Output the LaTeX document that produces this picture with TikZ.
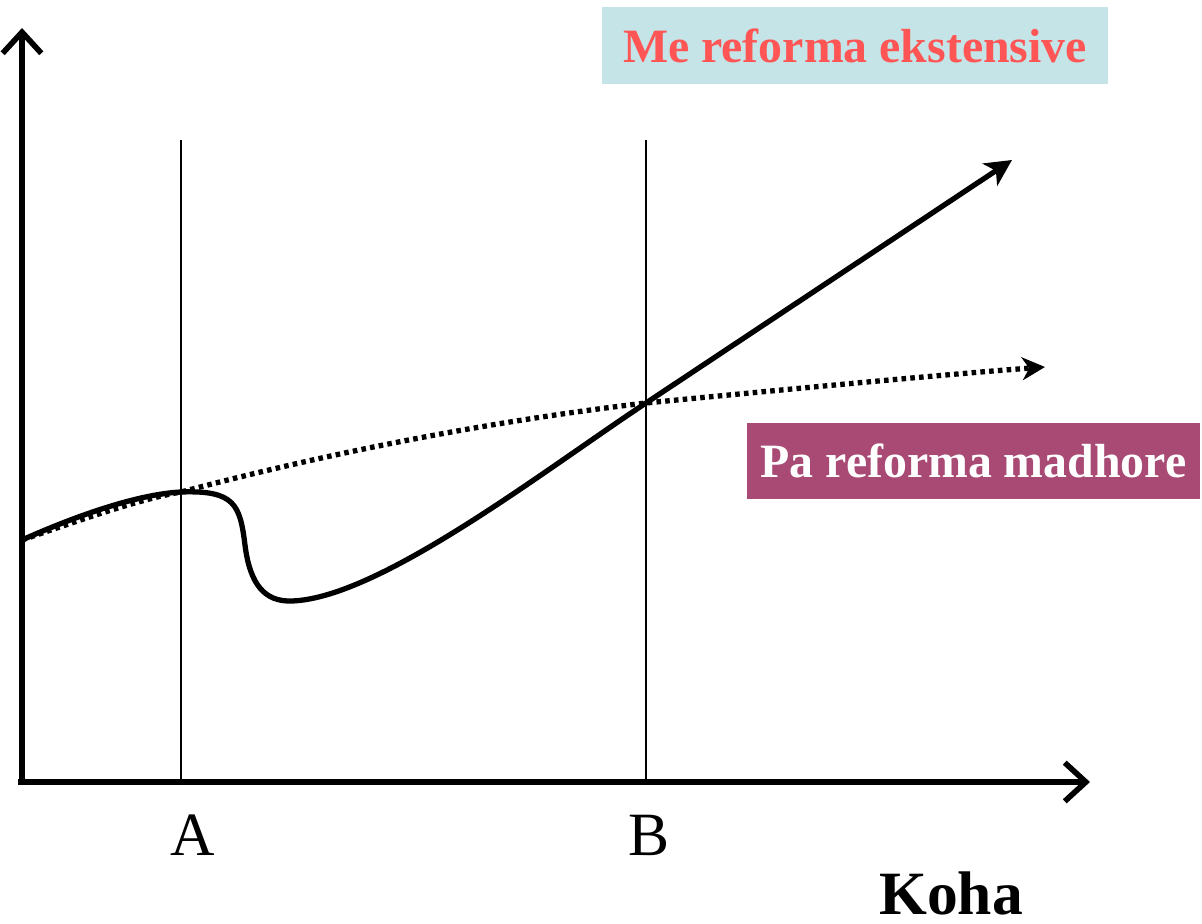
\documentclass[tikz,border=0pt]{standalone}
\usepackage{fontspec}
\setmainfont{Liberation Serif}
\usetikzlibrary{arrows.meta}
\definecolor{boxteal}{HTML}{C4E4E7}
\definecolor{labelred}{HTML}{FF5555}
\definecolor{boxplum}{HTML}{A94A75}
\begin{document}
\begin{tikzpicture} [x=0.01cm, y=0.01cm,
    axis/.style = {line width=1.6pt, -{Straight Barb[length=6pt, width=11pt]}},
    guide/.style = {line width=0.6pt},
    reform/.style = {line width=1.5pt, -{Stealth[length=7.5pt, width=7.5pt, inset=2pt]}},
    noreform/.style = {line width=1.5pt, dash pattern=on 1.3pt off 1.2pt, -{Stealth[length=6.5pt, width=6.5pt, inset=2pt]}},
    tag/.style = {inner sep=0pt, font=\fontsize{13.6}{16}\selectfont\bfseries}]
    \useasboundingbox (0,0) rectangle (1202,923);
    % place nodes
    \coordinate (O) at (22,141);
    \coordinate (yTop) at (22,895);
    \coordinate (xStart) at (18,141);
    \coordinate (xEnd) at (1090,141);
    \coordinate (Abot) at (181,141);
    \coordinate (Atop) at (181,783);
    \coordinate (Bbot) at (646,141);
    \coordinate (Btop) at (646,783);
    \coordinate (start) at (22,383);
    \coordinate (atA) at (181,431);
    \coordinate (drop) at (245,378);
    \coordinate (dip) at (292,322);
    \coordinate (atB) at (646,520);
    \coordinate (reformEnd) at (1012,763);
    \coordinate (trendEnd) at (1045,556);
    \node [tag, fill=boxteal, text=labelred, minimum width=5.06cm, minimum height=0.77cm] (me) at (855,877.5) {Me reforma ekstensive};
    \node [tag, fill=boxplum, text=white, minimum width=4.53cm, minimum height=0.76cm] (pa) at (973.5,462) {Pa reforma madhore};
    \node [anchor=base, inner sep=0pt, font=\fontsize{17.5}{20}\selectfont] (A) at (193,68) {A};
    \node [anchor=base, inner sep=0pt, font=\fontsize{17.5}{20}\selectfont] (B) at (649,68) {B};
    \node [anchor=base, inner sep=0pt, font=\fontsize{17.5}{20}\selectfont\bfseries] (koha) at (951,9) {Koha};
    % draw edges
    \draw [guide] (Abot) -- (Atop);
    \draw [guide] (Bbot) -- (Btop);
    \draw [axis] (O) -- (yTop);
    \draw [axis] (xStart) -- (xEnd);
    % path without major reforms
    \draw [noreform] (start) .. controls (80,403) and (140,424) .. (atA)
      .. controls (340,473) and (500,503) .. (atB)
      .. controls (800,535) and (950,549) .. (trendEnd);
    % path with extensive reforms
    \draw [reform] (start) .. controls (80,409) and (140,429) .. (atA)
      .. controls (235,433) and (240,418) .. (drop)
      .. controls (250,338) and (265,321) .. (dip)
      .. controls (380,325) and (546,454) .. (atB) -- (reformEnd);
  \end{tikzpicture}
\end{document}
